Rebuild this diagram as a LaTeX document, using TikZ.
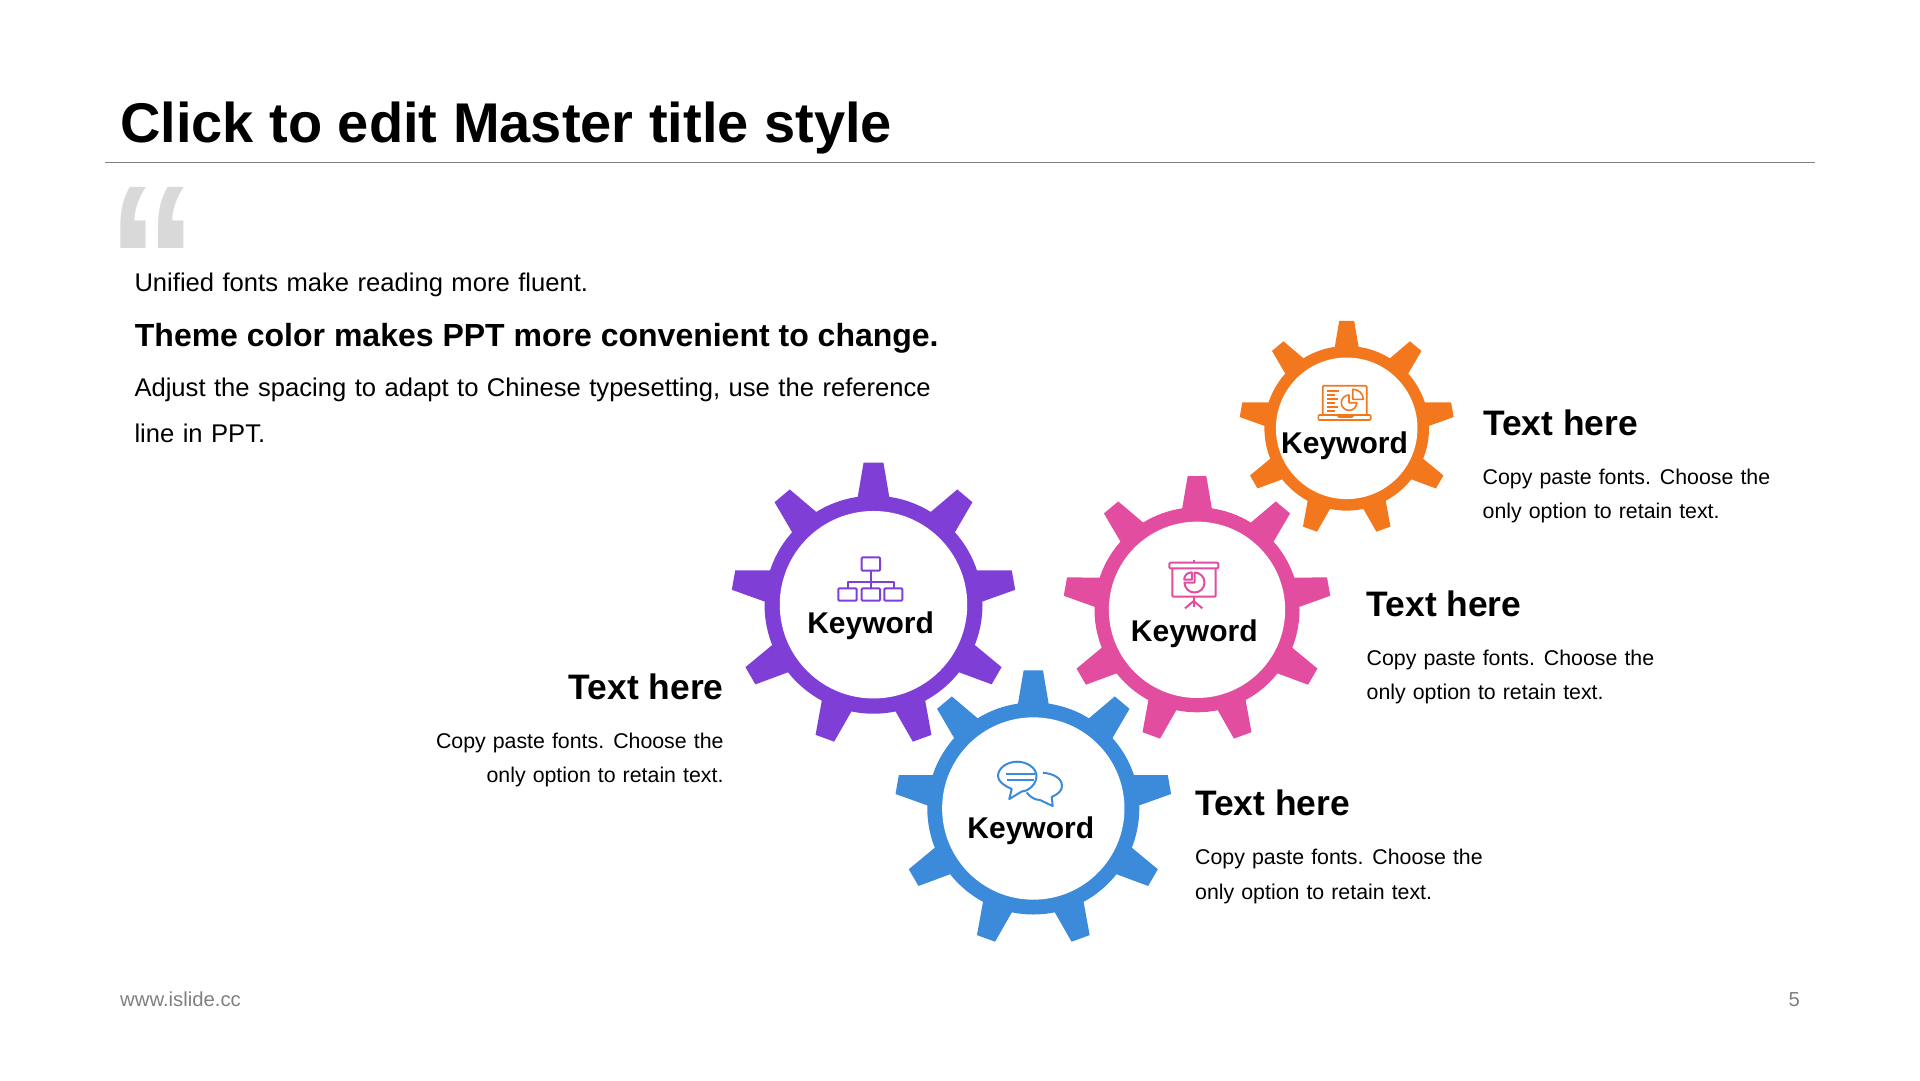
\documentclass[tikz,border=0pt]{standalone}
\usepackage{fontspec}
\setmainfont{Liberation Sans}
\newfontfamily\widefont[WordSpace=1.19]{Liberation Sans}
\definecolor{gearpurple}{HTML}{7F3FD7}
\definecolor{gearpink}{HTML}{E34D9F}
\definecolor{gearblue}{HTML}{3C8ADA}
\definecolor{gearorange}{HTML}{F3771D}
\newcommand{\gearshape}[4]{
	\begin{scope}[shift={(#1,#2)},scale=#3]
		\fill[#4] (0,0) circle (1);
		\foreach \toothangle in {0,40,...,320} {
			\fill[#4,rotate=\toothangle] (-0.148,-0.97) -- (-0.091,-1.304) -- (0.091,-1.304) -- (0.148,-0.97) -- cycle;
		}
		\fill[white] (0,0) circle (0.86);
	\end{scope}
}
\tikzset{
	titletext/.style={anchor=base west,inner sep=0,font=\fontsize{56}{60}\selectfont\bfseries},
	bodytext/.style={anchor=base west,inner sep=0,font=\widefont\fontsize{25.6}{32}\selectfont},
	leadtext/.style={anchor=base west,inner sep=0,font=\fontsize{32}{36}\selectfont\bfseries},
	keytext/.style={anchor=base,inner sep=0,font=\fontsize{30}{32}\selectfont\bfseries},
	headtext/.style={anchor=base west,inner sep=0,font=\fontsize{35.4}{40}\selectfont\bfseries},
	desctext/.style={anchor=base west,inner sep=0,font=\widefont\fontsize{21.33}{34.3}\selectfont},
	icon/.style={line width=2pt,line join=round}
}
\begin{document}
\begin{tikzpicture}[x=1pt,y=-1pt]
	\useasboundingbox (0,0) rectangle (1920,1080);

	\node[titletext] (title) at (120,142.7) {Click to edit Master title style};
	\coordinate (ruleleft) at (105,162.5);
	\coordinate (ruleright) at (1815,162.5);
	\draw[color=black!50,line width=1.3pt] (ruleleft) -- (ruleright);
	\node[anchor=base west,inner sep=0,text=black!15,xscale=1.06,yscale=1.275,transform shape,font=\fontsize{170}{170}\selectfont\bfseries] (quote) at (107.3,336) {“};

	\node[bodytext] (unified) at (134.3,291.5) {Unified fonts make reading more fluent.};
	\node[leadtext] (theme) at (134.7,346.5) {Theme color makes PPT more convenient to change.};
	\node[bodytext] (adjust) at (134.3,396) {Adjust the spacing to adapt to Chinese typesetting, use the reference};
	\node[bodytext] (line) at (134.3,442) {line in PPT.};

	\gearshape{873.5}{604.7}{109}{gearpurple}
	\gearshape{1197}{609.8}{102.5}{gearpink}
	\gearshape{1033.3}{808.5}{106}{gearblue}
	\gearshape{1346.7}{428.3}{82.3}{gearorange}

	\node[keytext] (keypurple) at (870.6,633.7) {Keyword};
	\node[keytext] (keypink) at (1194.3,641) {Keyword};
	\node[keytext] (keyblue) at (1030.8,838.7) {Keyword};
	\node[keytext] (keyorange) at (1344.5,453.7) {Keyword};

	% organisation chart
	\begin{scope}[gearpurple,icon]
		\draw[rounded corners=1pt] (861.7,557.3) rectangle (880,570.7);
		\draw (870.7,570.7) -- (870.7,588.3);
		\draw (847.7,588.3) -- (847.7,581.7) -- (894,581.7) -- (894,588.3);
		\draw[rounded corners=1pt] (838.3,588.3) rectangle (856.7,600.7);
		\draw[rounded corners=1pt] (861.7,588.3) rectangle (880,600.7);
		\draw[rounded corners=1pt] (884.3,588.3) rectangle (902.3,600.7);
	\end{scope}

	% screen with pie
	\begin{scope}[gearpink,icon]
		\draw[rounded corners=1pt] (1169.3,562.7) rectangle (1218.3,568.3);
		\draw (1193.7,560) -- (1193.7,562.7);
		\draw[rounded corners=1pt] (1172.3,568.3) -- (1172.3,596.7) -- (1215.7,596.7) -- (1215.7,568.3);
		\draw (1193.7,596.7) -- (1193.7,601);
		\draw (1185,608.3) -- (1193.7,601) -- (1202.3,608.3);
		\draw (1193.7,601) -- (1193.7,607);
		\draw (1194.5,572.5) arc[start angle=90,end angle=-180,radius=10pt] -- (1194.5,582.5) -- cycle;
		\draw (1184.2,579.7) -- (1191.8,579.7) -- (1191.8,572.4) .. controls (1187,572.4) and (1184.2,575.5) .. (1184.2,579.7) -- cycle;
	\end{scope}

	% speech bubbles
	\begin{scope}[gearblue,icon]
		\draw (1011.7,789) .. controls (1003,785) and (998,781) .. (998,776) .. controls (998,768) and (1007,761.7) .. (1017.3,761.7) .. controls (1027,761.7) and (1036.5,768) .. (1036.5,776) .. controls (1036.5,784) and (1029,791) .. (1021.7,791.5) -- (1009.3,799) -- cycle;
		\draw (1006,774) -- (1035,774);
		\draw (1007,780) -- (1034,780);
		\draw (1043,772.8) .. controls (1053,773.5) and (1062,778) .. (1062,786) .. controls (1062,791) and (1058,794) .. (1051.7,797) -- (1052.7,806) -- (1040,800) .. controls (1035,800) and (1030,797) .. (1026.7,792.5);
	\end{scope}

	% laptop with pie
	\begin{scope}[gearorange,icon,line width=1.6pt]
		\draw[rounded corners=1pt] (1322.7,415) -- (1322.7,385.7) -- (1366.7,385.7) -- (1366.7,415);
		\draw[rounded corners=1pt] (1318.3,415) rectangle (1370.7,420);
		\draw (1337,415) -- (1339,417) -- (1352,417) -- (1354,415);
		\foreach \listy/\listend in {390.7/1339,394.7/1335,398.7/1338,402.7/1335,406.7/1338,410.7/1335} {
			\draw (1326.5,\listy) -- (\listend,\listy);
		}
		\draw (1349,395) arc[start angle=90,end angle=360,radius=7.7pt] -- (1349,402.7) -- cycle;
		\draw (1352.7,389.3) -- (1352.7,399.3) -- (1363.3,399.3) .. controls (1363.3,393.5) and (1358.5,389.3) .. (1352.7,389.3) -- cycle;
	\end{scope}

	\node[headtext] (headorange) at (1483,435.5) {Text here};
	\node[desctext,align=left] (descorange) at (1482.5,518.5) {Copy paste fonts. Choose the\\only option to retain text.};
	\node[headtext] (headpink) at (1366.5,616.5) {Text here};
	\node[desctext,align=left] (descpink) at (1366.5,699.5) {Copy paste fonts. Choose the\\only option to retain text.};
	\node[headtext] (headblue) at (1195,815.5) {Text here};
	\node[desctext,align=left] (descblue) at (1195,899) {Copy paste fonts. Choose the\\only option to retain text.};
	\node[headtext,anchor=base east] (headpurple) at (723.7,699) {Text here};
	\node[desctext,anchor=base east,align=right] (descpurple) at (723.7,782.5) {Copy paste fonts. Choose the\\only option to retain text.};

	\node[anchor=base west,inner sep=0,text=black!50,font=\fontsize{20.3}{24}\selectfont] (site) at (120,1006) {www.islide.cc};
	\node[anchor=base east,inner sep=0,text=black!50,font=\fontsize{20.3}{24}\selectfont] (page) at (1800,1006) {5};
\end{tikzpicture}
\end{document}
